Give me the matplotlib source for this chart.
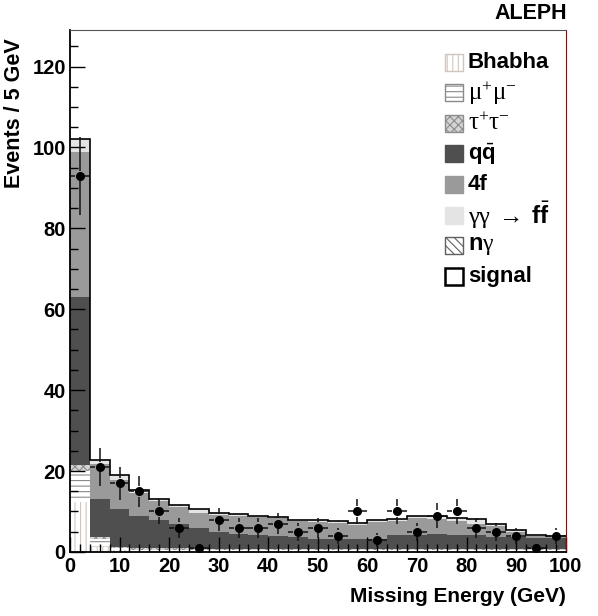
import numpy as np
import matplotlib
matplotlib.use('Agg')
import matplotlib.pyplot as plt
from matplotlib.patches import Rectangle

plt.rcParams['font.family'] = ['Liberation Sans', 'DejaVu Sans']
plt.rcParams['mathtext.fontset'] = 'custom'
plt.rcParams['mathtext.rm'] = 'Liberation Serif'
plt.rcParams['mathtext.bf'] = 'Liberation Sans:bold'
plt.rcParams['mathtext.default'] = 'regular'
plt.rcParams['hatch.linewidth'] = 0.8

# 25 bins of 4 GeV, missing energy 0-100 GeV
edges = np.arange(0, 101, 4)
centers = edges[:-1] + 2

data = [93, 21, 17, 15, 10, 6, 1, 8, 6, 6, 7, 5, 6, 4, 10, 3, 10, 5, 9, 10, 6, 5, 4, 1, 4]

bhabha = [12.4, 1.3, 0.4, 0.3, 0.3, 0.3, 0.2, 0.2, 0.2, 0.2, 0.2, 0.2, 0.2,
          0.2, 0.2, 0.2, 0.2, 0.2, 0.2, 0.2, 0.2, 0.2, 0.2, 0.2, 0.2]
mumu = [7.6, 2.0, 0.5, 0.3, 0.3, 0.3, 0.3, 0.3, 0.2, 0.2, 0.2, 0.2, 0.2,
        0.2, 0.2, 0.2, 0.2, 0.2, 0.2, 0.2, 0.2, 0.2, 0.2, 0.2, 0.2]
tautau = [1.5, 0.5, 0.4, 0.4, 0.3, 0.3, 0.3, 0.3, 0.3, 0.3, 0.3, 0.3, 0.3,
          0.3, 0.3, 0.3, 0.3, 0.3, 0.3, 0.3, 0.3, 0.3, 0.3, 0.3, 0.3]
qqbar = [41.5, 9.3, 9.2, 8.0, 7.1, 6.0, 5.2, 4.1, 3.7, 3.5, 3.3, 3.0, 2.5,
         2.4, 2.4, 2.5, 3.5, 3.6, 3.7, 3.6, 3.4, 3.0, 2.9, 2.7, 2.7]
fourf = [36.0, 8.6, 7.3, 5.5, 4.7, 4.3, 3.7, 4.3, 4.6, 4.4, 4.3, 3.9, 4.3,
         4.1, 3.6, 4.3, 3.5, 4.0, 3.7, 3.4, 2.9, 2.8, 1.3, 0.5, 0.2]
gamgam = [3.0, 1.0, 1.2, 0.6, 0.2, 0.2, 0.8, 0.4, 0.3, 0.3, 0.2, 0.3, 0.3,
          0.3, 0.3, 0.3, 0.4, 0.6, 0.6, 0.6, 1.0, 0.4, 0.3, 0.2, 0.2]
ngamma = [0.2, 0.1, 0.1, 0.1, 0.1, 0.1, 0.1, 0.1, 0.1, 0.1, 0.1, 0.1, 0.1,
          0.1, 0.1, 0.1, 0.1, 0.1, 0.1, 0.1, 0.1, 0.1, 0.1, 0.1, 0.1]
signal = [0.0] * 25

labels = ['Bhabha', r'$\mathrm{\mu^{+}\mu^{-}}$', r'$\mathrm{\tau^{+}\tau^{-}}$',
          r'$\mathbf{q}\bar{\mathbf{q}}$', '4f',
          r'$\mathrm{\gamma\gamma}\,\rightarrow\,\mathbf{f}\bar{\mathbf{f}}$',
          r'$\mathbf{n}\mathrm{\gamma}$', 'signal']
weights = ['bold', 'normal', 'normal', 'normal', 'bold', 'normal', 'normal', 'bold']
lsizes = [16, 18, 18, 16, 16, 17.5, 17, 16]
comps = [bhabha, mumu, tautau, qqbar, fourf, gamgam, ngamma, signal]
styles = [
    dict(facecolor='white', edgecolor='#cfc6bf', hatch='|||'),
    dict(facecolor='white', edgecolor='#8a8a8a', hatch='---'),
    dict(facecolor='#d4d4d4', edgecolor='#8c8c8c', hatch='xxxx'),
    dict(facecolor='#4f4f4f', edgecolor='#4f4f4f', hatch=None),
    dict(facecolor='#9a9a9a', edgecolor='#9a9a9a', hatch=None),
    dict(facecolor='#e4e4e4', edgecolor='#e4e4e4', hatch=None),
    dict(facecolor='white', edgecolor='#606060', hatch='\\\\\\\\'),
    dict(facecolor='white', edgecolor='black', hatch=None),
]

fig = plt.figure(figsize=(5.98, 6.16), dpi=100)
ax = fig.add_axes([0.117, 0.104, 0.829, 0.847])

bottom = np.zeros(len(centers))
for vals, st in zip(comps[:-1], styles[:-1]):
    vals = np.asarray(vals)
    ax.stairs(bottom + vals, edges, baseline=bottom.copy(), fill=True,
              facecolor=st['facecolor'], edgecolor=st['edgecolor'],
              hatch=st['hatch'], linewidth=0)
    bottom = bottom + vals
total = bottom + np.asarray(signal)
ax.stairs(total, edges, baseline=None, color='black', linewidth=1.2)

# data points with ROOT-style gapped error bars
data = np.asarray(data, dtype=float)
err = np.sqrt(data)
gx, gy = 1.0, 1.3
ecol = '#111111'
ax.hlines(data, centers - 2, centers - gx, color=ecol, lw=1.1)
ax.hlines(data, centers + gx, centers + 2, color=ecol, lw=1.1)
m = err > gy
ax.vlines(centers[m], (data - err)[m], (data - gy)[m], color=ecol, lw=1.1)
ax.vlines(centers[m], (data + gy)[m], (data + err)[m], color=ecol, lw=1.1)
ax.plot(centers, data, 'o', color='black', markersize=5.5, zorder=5)

ax.set_xlim(0, 100)
ax.set_ylim(0, 129)
ax.set_xticks(np.arange(0, 101, 10))
ax.set_xticks(np.arange(0, 101, 2), minor=True)
ax.set_yticks(np.arange(0, 121, 20))
ax.set_yticks(np.arange(0, 129, 5), minor=True)
ax.tick_params(which='both', direction='in', top=False, right=False,
               labelsize=14.5, width=1)
ax.tick_params(axis='x', pad=4)
ax.tick_params(axis='y', pad=3)
ax.tick_params(which='major', length=11)
ax.tick_params(which='minor', length=5.5)
for lab in ax.get_xticklabels() + ax.get_yticklabels():
    lab.set_fontweight('bold')
for s in ['left', 'bottom']:
    ax.spines[s].set_linewidth(1.3)
ax.spines['top'].set_color('#555555')
ax.spines['right'].set_color('#a00000')

ax.set_xlabel('Missing Energy (GeV)', fontsize=15, fontweight='bold', loc='right')
ax.set_ylabel('Events / 5 GeV', fontsize=15.5, fontweight='bold', loc='top')
ax.xaxis.set_label_coords(1.0, -0.068)
ax.yaxis.set_label_coords(-0.09, 0.985)

fig.text(0.948, 0.978, 'ALEPH', fontsize=15.5, fontweight='bold', ha='right', va='center')

# legend drawn as ROOT-like boxes at fixed rows
x0, y0 = 70.0, 552.0
sx, sy = 496.0, 522.0
for i, (lab, st, w, fs) in enumerate(zip(labels, styles, weights, lsizes)):
    yc = 62 + 30.6 * i
    yf = (y0 - yc) / sy
    ax.add_patch(Rectangle(((445 - x0) / sx, yf - 8.5 / sy), 18 / sx, 17 / sy,
                           transform=ax.transAxes, facecolor=st['facecolor'],
                           edgecolor=st['edgecolor'], hatch=st['hatch'],
                           linewidth=1.0 if i != 7 else 1.8, clip_on=False))
    ax.text((468 - x0) / sx, yf, lab, transform=ax.transAxes, fontsize=fs,
            fontweight=w, va='center', ha='left')

fig.savefig('out.png', dpi=100)
